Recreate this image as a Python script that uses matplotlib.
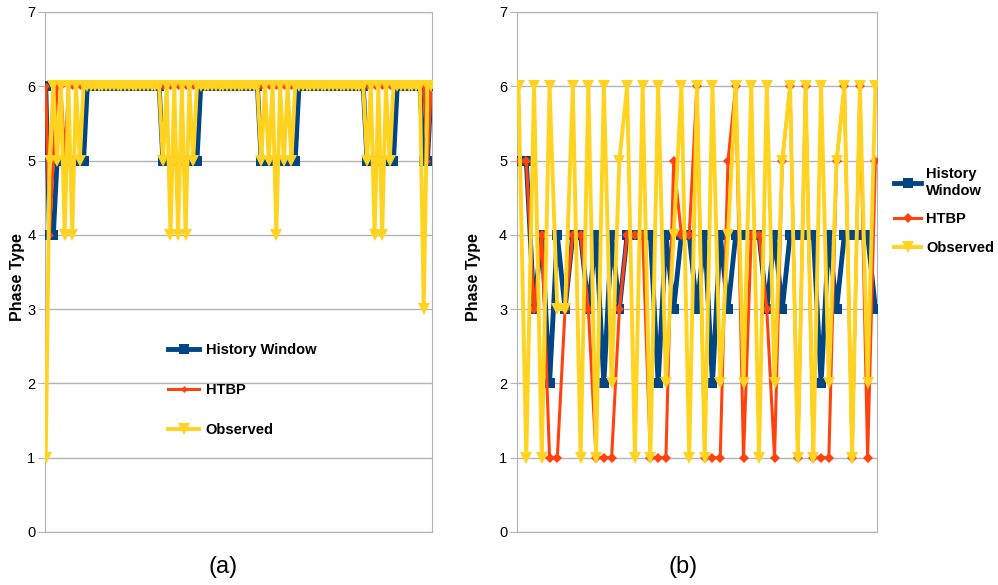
import matplotlib.pyplot as plt

plt.rcParams['font.family'] = ['Liberation Sans', 'DejaVu Sans']

# (a) 103 samples
history_a = [6, 4, 4, 5, 5, 5, 5, 5, 5, 5, 5, 6, 6, 6, 6, 6, 6, 6, 6, 6,
             6, 6, 6, 6, 6, 6, 6, 6, 6, 6, 6, 5, 5, 5, 5, 5, 5, 5, 5, 5,
             5, 6, 6, 6, 6, 6, 6, 6, 6, 6, 6, 6, 6, 6, 6, 6, 6, 5, 5, 5,
             5, 5, 5, 5, 5, 5, 5, 6, 6, 6, 6, 6, 6, 6, 6, 6, 6, 6, 6, 6,
             6, 6, 6, 6, 6, 5, 5, 5, 5, 5, 5, 5, 5, 6, 6, 6, 6, 6, 6, 6,
             5, 5, 6]
htbp_a = [6, 4, 5, 6, 6, 5, 6, 6, 6, 6, 6, 6, 6, 6, 6, 6, 6, 6, 6, 6,
          6, 6, 6, 6, 6, 6, 6, 6, 6, 6, 6, 6, 6, 6, 6, 6, 6, 6, 6, 6,
          6, 6, 6, 6, 6, 6, 6, 6, 6, 6, 6, 6, 6, 6, 6, 6, 6, 6, 6, 6,
          6, 6, 6, 6, 6, 6, 6, 6, 6, 6, 6, 6, 6, 6, 6, 6, 6, 6, 6, 6,
          6, 6, 6, 6, 6, 6, 6, 6, 6, 6, 6, 6, 6, 6, 6, 6, 6, 6, 6, 6,
          6, 5, 6]
observed_a = [1, 5, 6, 5, 6, 4, 6, 4, 6, 5, 6, 6, 6, 6, 6, 6, 6, 6, 6, 6,
              6, 6, 6, 6, 6, 6, 6, 6, 6, 6, 6, 5, 6, 4, 6, 4, 6, 4, 6, 5,
              6, 6, 6, 6, 6, 6, 6, 6, 6, 6, 6, 6, 6, 6, 6, 6, 6, 5, 6, 5,
              6, 4, 6, 5, 6, 5, 6, 6, 6, 6, 6, 6, 6, 6, 6, 6, 6, 6, 6, 6,
              6, 6, 6, 6, 6, 5, 6, 4, 6, 4, 6, 5, 6, 6, 6, 6, 6, 6, 6, 6,
              3, 6, 6]

# (b) 47 samples
history_b = [5, 5, 3, 4, 2, 4, 3, 4, 4, 3, 4, 2, 4, 3, 4, 4, 4, 4, 2, 4,
             3, 4, 4, 3, 4, 2, 4, 3, 4, 4, 4, 4, 3, 4, 3, 4, 4, 4, 4, 2,
             4, 3, 4, 4, 4, 4, 3]
htbp_b = [5, 5, 3, 4, 1, 1, 3, 4, 4, 3, 1, 1, 1, 3, 4, 4, 4, 1, 1, 1,
          5, 4, 4, 6, 1, 1, 1, 5, 6, 1, 4, 4, 3, 1, 5, 6, 1, 6, 1, 1,
          1, 5, 6, 1, 6, 1, 5]
observed_b = [6, 1, 6, 1, 6, 3, 3, 6, 1, 6, 1, 6, 2, 5, 6, 1, 6, 1, 6, 2,
              4, 6, 1, 6, 1, 6, 2, 4, 6, 2, 6, 1, 6, 2, 5, 6, 1, 6, 1, 6,
              2, 5, 6, 1, 6, 2, 6]

BLUE = '#004586'
RED = '#ff420e'
YELLOW = '#ffd320'
GRID = '#b3b3b3'

fig = plt.figure(figsize=(9.98, 5.85), dpi=100)
ax1 = fig.add_axes([0.0451, 0.0906, 0.3878, 0.889])
ax2 = fig.add_axes([0.518, 0.0906, 0.3607, 0.889])


def draw(ax, hw, htbp, obs, hw_label, red_ms):
    x = range(len(hw))
    ax.plot(x, hw, color=BLUE, lw=3.5, marker='s', ms=7, mew=0, label=hw_label, zorder=3)
    ax.plot(x, htbp, color=RED, lw=2.2, marker='D', ms=red_ms, mew=0, label='HTBP', zorder=4)
    ax.plot(x, obs, color=YELLOW, lw=2.8, marker='v', ms=9, mew=0, label='Observed', zorder=5)
    ax.set_xlim(-0.2, len(hw) - 0.8)
    ax.set_ylim(0, 7)
    ax.set_yticks(range(8))
    ax.set_xticks([])
    ax.grid(axis='y', color=GRID, lw=1)
    ax.set_axisbelow(True)
    for s in ax.spines.values():
        s.set_color(GRID)
    ax.tick_params(axis='y', length=5, color=GRID, labelsize=10.5, pad=2)
    ax.set_ylabel('Phase Type', fontsize=11.5, fontweight='bold')


draw(ax1, history_a, htbp_a, observed_a, 'History Window', 3.5)
draw(ax2, history_b, htbp_b, observed_b, 'History\nWindow', 5)
ax1.yaxis.set_label_coords(-0.052, 0.49)
ax2.yaxis.set_label_coords(-0.1, 0.49)

ax1.legend(loc='upper left', bbox_to_anchor=(0.3, 0.378), frameon=False,
           prop={'weight': 'bold', 'size': 10.5}, labelspacing=1.8,
           handlelength=2.1, handletextpad=0.45, numpoints=1, borderpad=0)
ax2.legend(loc='upper left', bbox_to_anchor=(1.028, 0.715), frameon=False,
           prop={'weight': 'bold', 'size': 10.5}, labelspacing=1.0,
           handlelength=1.85, handletextpad=0.35, numpoints=1, borderpad=0)

fig.text(223 / 998, 1 - 567 / 585, '(a)', ha='center', va='center', fontsize=17)
fig.text(683 / 998, 1 - 567 / 585, '(b)', ha='center', va='center', fontsize=17)

fig.savefig('out.png', dpi=100)
